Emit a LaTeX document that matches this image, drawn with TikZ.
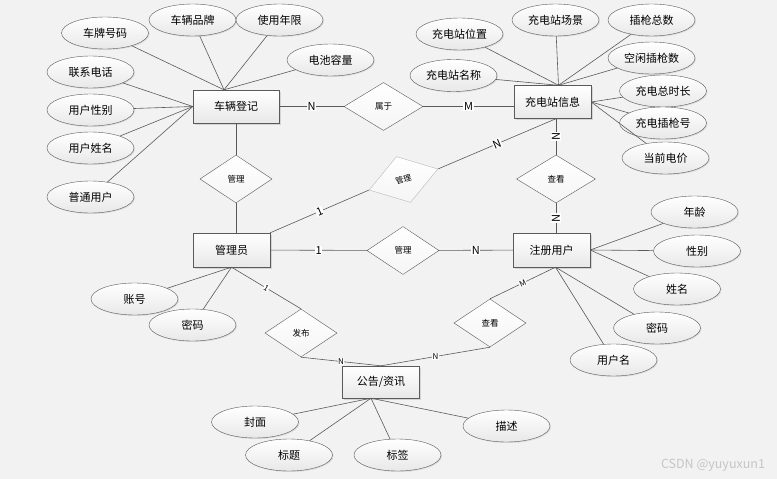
\documentclass[tikz,border=0pt]{standalone}
\usepackage{fontspec}
\setmainfont{Noto Sans CJK SC}
\usetikzlibrary{shapes.geometric, shadows, calc}
\definecolor{bg}{HTML}{F2F2F2}
\definecolor{edge}{HTML}{5A5A5A}

\begin{document}
\begin{tikzpicture}[x=1pt, y=-1pt,
  attr/.style={draw=edge, ellipse, minimum width=87pt, minimum height=32pt, inner sep=0pt,
    top color=white, bottom color=gray!18, drop shadow={opacity=0.2, shadow xshift=1pt, shadow yshift=-1pt},
    font=\fontsize{11}{11}\selectfont},
  ent/.style={draw=edge, rectangle, minimum width=77pt, minimum height=33pt, inner sep=0pt,
    top color=white, bottom color=gray!18, drop shadow={opacity=0.25, shadow xshift=1.5pt, shadow yshift=-1.5pt},
    font=\fontsize{11}{11}\selectfont},
  rel/.style={draw=edge, diamond, minimum width=72pt, minimum height=48pt, inner sep=0pt,
    top color=white, bottom color=gray!8, font=\fontsize{8.5}{8.5}\selectfont},
  conn/.style={draw=edge, line width=0.6pt},
  card/.style={fill=white, inner sep=0.6pt, font=\fontsize{11}{11}\selectfont},
  cardsm/.style={card, font=\fontsize{8}{8}\selectfont}]
\fill[bg] (0,0) rectangle (777,479);
\useasboundingbox (0,0) rectangle (777,479);

% entities
\node[ent, minimum width=86pt] (reg) at (236,106.5) {车辆登记};
\node[ent] (stn) at (552.5,102) {充电站信息};
\node[ent, minimum height=34pt] (adm) at (231.5,250) {管理员};
\node[ent, minimum height=34pt] (usr) at (551.5,250) {注册用户};
\node[ent, minimum height=32pt] (ann) at (381,382) {公告/资讯};

% relations
\node[rel, minimum width=79pt] (r1) at (383.5,106.5) {属于};
\node[rel] (r2) at (236,179) {管理};
\node[rel, rotate=17, draw=gray!55, font=\fontsize{8}{8}\selectfont] (r3) at (403.5,179.5) {管理};
\node[rel] (r4) at (403,250.5) {管理};
\node[rel, minimum width=79pt] (r5) at (556,179) {查看};
\node[rel] (r6) at (301,333) {发布};
\node[rel] (r7) at (490,323) {查看};

% attributes
\node[attr] (a1) at (105,33) {车牌号码};
\node[attr] (a2) at (192.5,20) {车辆品牌};
\node[attr] (a3) at (279.5,20) {使用年限};
\node[attr] (a4) at (330.5,60) {电池容量};
\node[attr] (a5) at (90.5,72) {联系电话};
\node[attr] (a6) at (90.5,110) {用户性别};
\node[attr] (a7) at (90.5,148) {用户姓名};
\node[attr] (a8) at (90.5,197) {普通用户};

\node[attr] (b1) at (459.5,34) {充电站位置};
\node[attr] (b2) at (555.5,20) {充电站场景};
\node[attr] (b3) at (651.5,20) {插枪总数};
\node[attr] (b4) at (651.5,58) {空闲插枪数};
\node[attr] (b5) at (453.5,75.5) {充电站名称};
\node[attr] (b6) at (663,91) {充电总时长};
\node[attr] (b7) at (663,123) {充电插枪号};
\node[attr] (b8) at (665.5,158) {当前电价};

\node[attr] (c1) at (694.5,212) {年龄};
\node[attr] (c2) at (697,251) {性别};
\node[attr] (c3) at (677,289) {姓名};
\node[attr] (c4) at (657,328) {密码};
\node[attr] (c5) at (613.5,360) {用户名};

\node[attr] (d1) at (134.5,299) {账号};
\node[attr] (d2) at (192.5,325) {密码};

\node[attr] (e1) at (255,422) {封面};
\node[attr] (e2) at (289,455) {标题};
\node[attr] (e3) at (397.5,455) {标签};
\node[attr] (e4) at (506.5,426) {描述};

\coordinate (regtop) at ($(reg.north)+(-12,0)$);
\coordinate (stntop) at ($(stn.north)+(6,0)$);
\coordinate (stnbot) at (stn.south -| r5.north);
\coordinate (usrbot) at ($(usr.south)+(4,0)$);
\coordinate (annbot) at ($(ann.south)+(-10,0)$);

% attribute lines
\foreach \a in {a1,a2,a3,a4} \draw[conn] (\a) -- (regtop);
\foreach \a in {a5,a6,a7,a8} \draw[conn] (\a) -- (reg.west);
\foreach \a in {b1,b2,b3,b4,b5} \draw[conn] (\a) -- (stntop);
\foreach \a in {b6,b7,b8} \draw[conn] (\a) -- (stn.east);
\foreach \a in {c1,c2,c3} \draw[conn] (\a) -- (usr.east);
\foreach \a in {c4,c5} \draw[conn] (\a) -- (usrbot);
\foreach \a in {d1,d2} \draw[conn] (\a) -- (adm.south);
\foreach \a in {e1,e2,e3,e4} \draw[conn] (\a) -- (annbot);

% relation lines
\draw[conn] (reg) -- node[card] {N} (r1);
\draw[conn] (r1.east) -- node[card] {M} (r1.east -| stn.west);
\draw[conn] (reg) -- (r2);
\draw[conn] (r2.south) -- (r2.south |- adm.north);
\draw[conn] (adm.north east) -- node[card, sloped] {1} (r3.west);
\draw[conn] (r3.east) -- node[card, sloped] {N} (stnbot);
\draw[conn] (stnbot) -- node[card, sloped] {N} (r5.north);
\draw[conn] (r5.south) -- node[card, sloped] {N} (r5.south |- usr.north);
\draw[conn] (adm) -- node[card] {1} (r4);
\draw[conn] (r4) -- node[card] {N} (usr);
\draw[conn] (adm.south) -- node[cardsm, sloped] {1} (r6.north);
\draw[conn] (r6.south) -- node[cardsm] {N} (ann.north);
\draw[conn] (usrbot) -- node[cardsm, sloped] {M} (r7.north);
\draw[conn] (r7.south) -- node[cardsm] {N} (ann.north);

% watermark
\node[text=gray!45, font=\fontsize{12.5}{12.5}\selectfont] (wm) at (713,465) {CSDN @yuyuxun1};
\end{tikzpicture}
\end{document}
